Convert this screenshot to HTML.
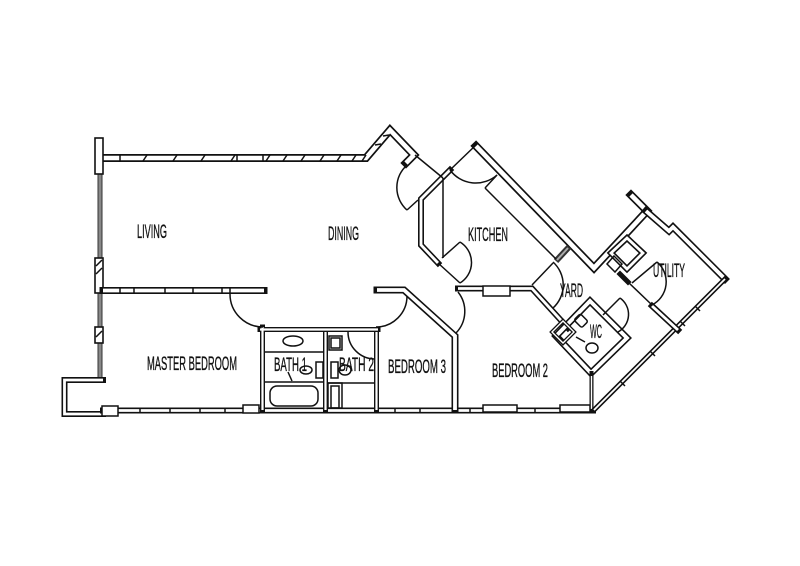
<!DOCTYPE html>
<html><head><meta charset="utf-8"><style>
html,body{margin:0;padding:0;background:#fff;}
svg{display:block;}
.b{fill:none;stroke:#111;stroke-linejoin:miter;stroke-linecap:square;}
.w{fill:none;stroke:#fff;stroke-linejoin:miter;stroke-linecap:butt;}
.t{fill:none;stroke:#111;stroke-width:1.5;}
.lb{font-family:"Liberation Sans",sans-serif;font-size:19px;fill:#111;stroke:#111;stroke-width:0.35;}
</style></head><body>
<svg width="800" height="566" viewBox="0 0 800 566" xmlns="http://www.w3.org/2000/svg">
<rect width="800" height="566" fill="#fff"/>

<!-- Top wall -->
<polyline class="b" stroke-width="8" points="103,158 366,158 390,130 414,155 406,163"/>
<polyline class="w" stroke-width="4.6" points="103,158 366,158 390,130 414,155 406,163"/>
<g class="t">
<line x1="120" y1="155" x2="120" y2="162"/><line x1="237" y1="155" x2="237" y2="162"/><line x1="263" y1="155" x2="263" y2="162"/>
<line x1="143" y1="161" x2="147" y2="155"/><line x1="173" y1="161" x2="177" y2="155"/><line x1="201" y1="161" x2="205" y2="155"/><line x1="231" y1="161" x2="235" y2="155"/>
<line x1="266" y1="161" x2="270" y2="155"/><line x1="283" y1="161" x2="287" y2="155"/><line x1="301" y1="161" x2="305" y2="155"/><line x1="320" y1="161" x2="324" y2="155"/><line x1="337" y1="161" x2="341" y2="155"/><line x1="352" y1="161" x2="356" y2="155"/><line x1="362" y1="161" x2="366" y2="155"/>
<line x1="375" y1="145" x2="381" y2="144"/><line x1="383" y1="136" x2="389" y2="135"/>
</g>
<!-- pillars left -->
<rect x="98" y="174" width="4" height="206" fill="#888" stroke="#333" stroke-width="1"/>
<rect x="95" y="138" width="8" height="36" fill="#fff" stroke="#111" stroke-width="1.6"/>
<rect x="95" y="258" width="8" height="35" fill="#fff" stroke="#111" stroke-width="1.6"/>
<line x1="96" y1="266" x2="102" y2="260" class="t"/><line x1="96" y1="274" x2="102" y2="268" class="t"/>
<rect x="95" y="327" width="8" height="16" fill="#fff" stroke="#111" stroke-width="1.6"/>
<line x1="96" y1="337" x2="102" y2="331" class="t"/>

<!-- living/master wall -->
<polyline class="b" stroke-width="7" points="103,290.5 264,290.5"/>
<polyline class="w" stroke-width="3.8" points="103,290.5 264,290.5"/>
<g class="t"><line x1="120" y1="287" x2="120" y2="294"/><line x1="230" y1="287" x2="230" y2="294"/><line x1="134" y1="288" x2="134" y2="293"/><line x1="165" y1="288" x2="165" y2="293"/><line x1="193" y1="288" x2="193" y2="293"/><line x1="222" y1="288" x2="222" y2="293"/></g>

<!-- balcony -->
<polyline class="b" stroke-width="6" points="103,380 64.5,380 64.5,414 103,414"/>
<polyline class="w" stroke-width="2.8" points="103,380 64.5,380 64.5,414 103,414"/>

<!-- bottom wall -->
<polyline class="b" stroke-width="6" points="103,410.5 593,410.5"/>
<polyline class="w" stroke-width="2.8" points="103,410.5 593,410.5"/>
<g fill="#fff" stroke="#111" stroke-width="1.5">
<rect x="102" y="406" width="16" height="10"/>
<rect x="243" y="405" width="16" height="8"/>
<rect x="483" y="405" width="34" height="7"/>
<rect x="560" y="405" width="30" height="7"/>
</g>
<g class="t"><line x1="140" y1="408" x2="140" y2="413"/><line x1="170" y1="408" x2="170" y2="413"/><line x1="200" y1="408" x2="200" y2="413"/><line x1="225" y1="408" x2="225" y2="413"/><line x1="395" y1="408" x2="395" y2="413"/><line x1="420" y1="408" x2="420" y2="413"/><line x1="470" y1="408" x2="470" y2="413"/><line x1="535" y1="408" x2="535" y2="413"/></g>

<!-- bath walls -->
<g>
<polyline class="b" stroke-width="5" points="262.5,327 262.5,410"/>
<polyline class="b" stroke-width="5" points="260,329.5 378,329.5"/>
<polyline class="b" stroke-width="5" points="325.5,329.5 325.5,410"/>
<polyline class="b" stroke-width="5" points="376.5,329.5 376.5,410"/>
<polyline class="w" stroke-width="2.2" points="262.5,327 262.5,410"/>
<polyline class="w" stroke-width="2.2" points="260,329.5 378,329.5"/>
<polyline class="w" stroke-width="2.2" points="325.5,332 325.5,410"/>
<polyline class="w" stroke-width="2.2" points="376.5,332 376.5,410"/>
</g>
<!-- bath fixtures -->
<g class="t">
<line x1="265" y1="352" x2="323" y2="352"/>
<line x1="265" y1="382" x2="323" y2="382"/>
<rect x="270" y="386" width="48" height="20" rx="7"/>
<ellipse cx="293" cy="341" rx="10" ry="5"/>
<ellipse cx="306" cy="370" rx="6" ry="4"/>
<rect x="316" y="362" width="7" height="16"/>
<line x1="288" y1="372" x2="292" y2="381"/>
<rect x="329" y="336" width="13" height="14"/><rect x="331" y="338" width="9" height="10"/>
<rect x="331" y="362" width="7" height="16"/>
<ellipse cx="345" cy="370" rx="6" ry="5"/>
<line x1="328" y1="383" x2="375" y2="383"/>
<rect x="328" y="383" width="14" height="25"/><rect x="331" y="386" width="8" height="22"/>
<path d="M348,332 A27,27 0 0 0 375,359"/>
<path d="M230,294 A33,33 0 0 0 263,327"/>
<path d="M407,296 A31,31 0 0 1 376,327"/>
</g>

<!-- dining stub / bedroom3 diagonal / partition -->
<polyline class="b" stroke-width="7" points="377,290 404,290 455,336 455,410"/>
<polyline class="w" stroke-width="3.8" points="377,290 404,290 455,336 455,410"/>

<!-- bedroom2 top wall -->
<polyline class="b" stroke-width="6" points="458,288.5 532,288.5 568,328"/>
<polyline class="w" stroke-width="2.8" points="458,288.5 532,288.5 568,328"/>
<rect x="483" y="286" width="27" height="10" fill="#fff" stroke="#111" stroke-width="1.5"/>

<!-- WC -->
<polygon class="b" stroke-width="7" points="590,301 627,338 591,373 556,336"/>
<polygon class="w" stroke-width="3.8" points="590,301 627,338 591,373 556,336"/>
<polygon class="b" stroke-width="4" points="563,321 574,332 563,343 552,332"/>
<polygon class="w" stroke-width="1.4" points="563,321 574,332 563,343 552,332"/>
<g class="t">
<rect x="576" y="316" width="11" height="9" rx="2" transform="rotate(45 581 320)"/>
<ellipse cx="592" cy="348" rx="6" ry="5"/>
<line x1="576" y1="337" x2="585" y2="342"/>
</g>
<polyline class="b" stroke-width="4" points="591.5,373 591.5,411"/>
<polyline class="w" stroke-width="1.4" points="591.5,376 591.5,409"/>

<!-- kitchen outer V & stub -->
<polyline class="b" stroke-width="8" points="476,146 594,268 647,211 631,195"/>
<polyline class="w" stroke-width="4.6" points="476,146 594,268 647,211 631,195"/>
<!-- utility outer -->
<polyline class="b" stroke-width="7" points="646,211 669,231 673,227 725,279"/>
<polyline class="w" stroke-width="3.8" points="646,211 669,231 673,227 725,279"/>
<polyline class="b" stroke-width="5" points="725,279 594,410"/>
<polyline class="w" stroke-width="1.8" points="725,279 594,410"/>
<g class="t"><line x1="695" y1="306" x2="700" y2="311"/><line x1="680" y1="321" x2="685" y2="326"/><line x1="650" y1="351" x2="655" y2="356"/><line x1="620" y1="381" x2="625" y2="386"/></g>

<!-- kitchen left wall -->
<polyline class="b" stroke-width="6" points="450,170 421,199 421,245 438,263"/>
<polyline class="w" stroke-width="2.8" points="450,170 421,199 421,245 438,263"/>

<!-- yard stub -->
<line x1="556" y1="261" x2="569" y2="247" stroke="#333" stroke-width="6"/>
<line x1="557" y1="260" x2="568" y2="248" stroke="#aaa" stroke-width="2"/>

<!-- utility inner -->
<polyline class="b" stroke-width="6" points="652,306 678,330"/>
<polyline class="w" stroke-width="2.8" points="652,306 678,330"/>
<polyline class="b" stroke-width="5" points="620,274 628,282"/>
<polygon class="b" stroke-width="6" points="627,238 643,253 627,269 611,253"/>
<polygon class="w" stroke-width="2.8" points="627,238 643,253 627,269 611,253"/>
<polygon class="t" points="614,256 622,264 615,272 607,264"/>

<!-- thin lines & doors -->
<g class="t">
<line x1="415" y1="155" x2="443" y2="178"/>
<line x1="443" y1="178" x2="443" y2="258"/>
<line x1="407" y1="210" x2="418" y2="200"/>
<path d="M407,165 A30,30 0 0 0 407,210"/>
<line x1="477" y1="144" x2="450" y2="170"/>
<path d="M450,170 A32,32 0 0 0 497,175"/>
<line x1="497" y1="175" x2="485" y2="188"/>
<line x1="485" y1="188" x2="556" y2="259"/>
<path d="M460,242 A24,24 0 0 1 460,283"/>
<line x1="442" y1="258" x2="460" y2="242"/>
<line x1="438" y1="263" x2="460" y2="283"/>
<path d="M458,292 A31,31 0 0 1 456,333"/>
<line x1="532" y1="285" x2="553" y2="263"/>
<path d="M553,262 A31,31 0 0 1 553,308"/>
<line x1="603" y1="315" x2="620" y2="298"/>
<path d="M620,298 A20,20 0 0 1 618,332"/>
<line x1="628" y1="282" x2="652" y2="305"/>
<line x1="632" y1="283" x2="657" y2="262"/>
<path d="M657,262 A26,26 0 0 1 652,305"/>
</g>

<!-- labels -->
<g class="lb">
<text x="137" y="238" textLength="30" lengthAdjust="spacingAndGlyphs">LIVING</text>
<text x="328" y="240" textLength="31" lengthAdjust="spacingAndGlyphs">DINING</text>
<text x="468" y="241" textLength="40" lengthAdjust="spacingAndGlyphs">KITCHEN</text>
<text x="560" y="297" textLength="23" lengthAdjust="spacingAndGlyphs">YARD</text>
<text x="653" y="277" textLength="32" lengthAdjust="spacingAndGlyphs">UTILITY</text>
<text x="147" y="370" textLength="90" lengthAdjust="spacingAndGlyphs">MASTER BEDROOM</text>
<text x="274" y="371" textLength="33" lengthAdjust="spacingAndGlyphs">BATH 1</text>
<text x="339" y="371" textLength="35" lengthAdjust="spacingAndGlyphs">BATH 2</text>
<text x="388" y="373" textLength="58" lengthAdjust="spacingAndGlyphs">BEDROOM 3</text>
<text x="492" y="377" textLength="56" lengthAdjust="spacingAndGlyphs">BEDROOM 2</text>
<text x="590" y="338" textLength="12" lengthAdjust="spacingAndGlyphs">WC</text>
</g>
</svg>
</body></html>
